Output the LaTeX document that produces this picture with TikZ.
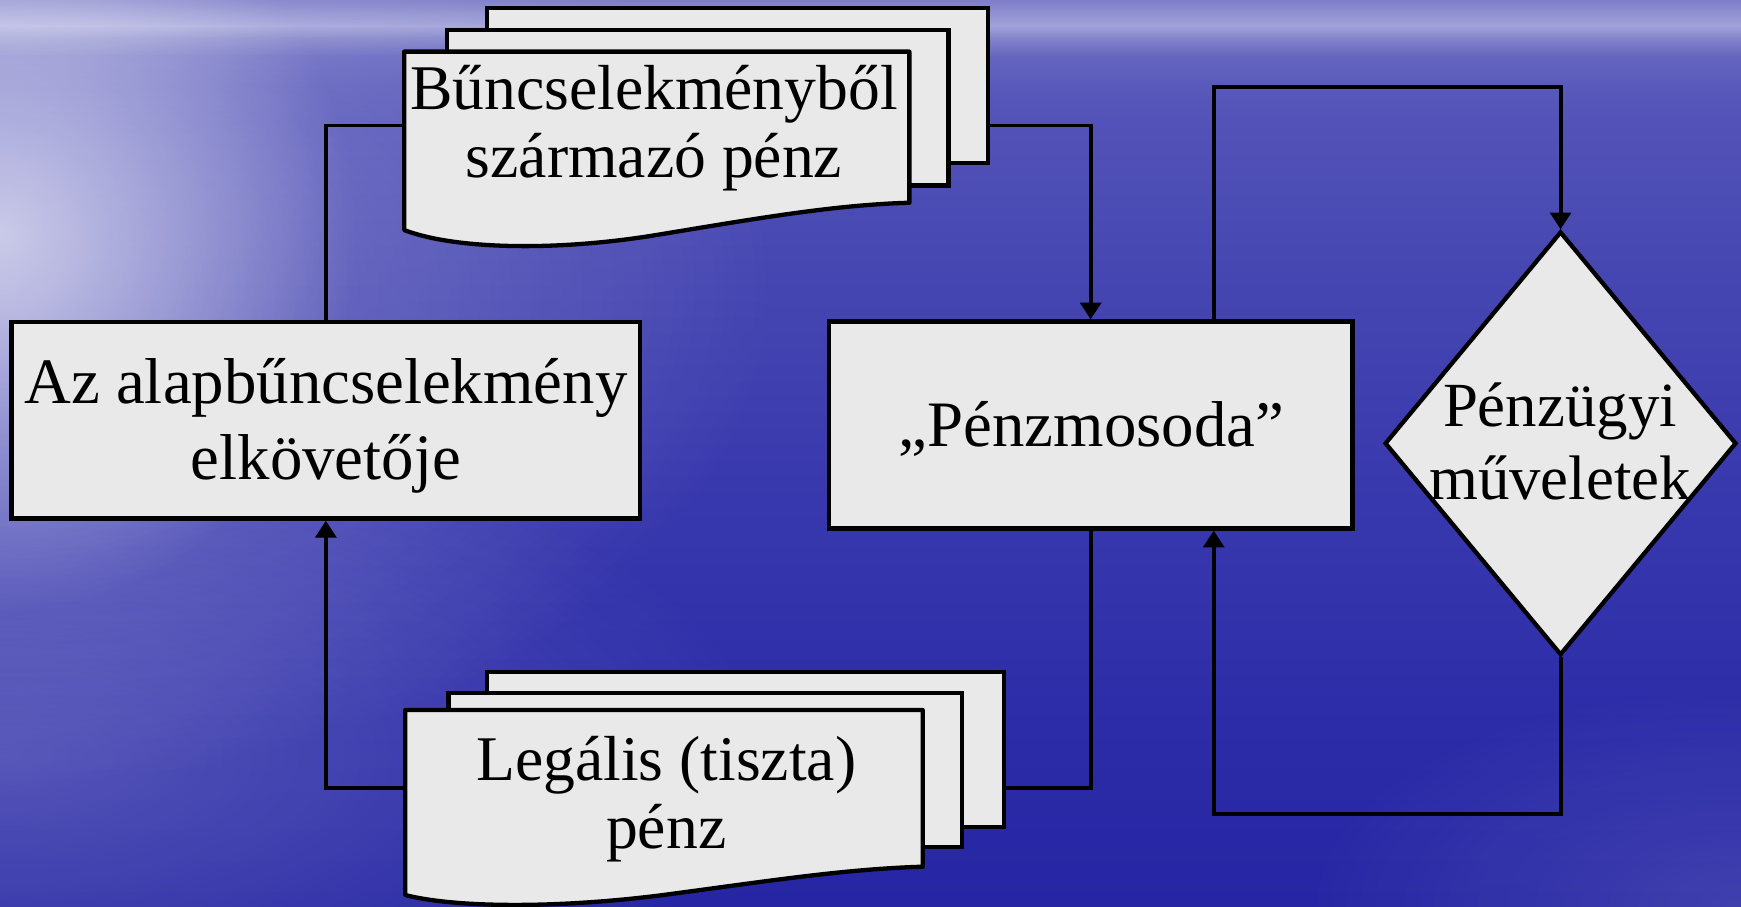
\documentclass[tikz,border=0pt]{standalone}
\usepackage{fontspec}
\setmainfont{Liberation Serif}
\usetikzlibrary{arrows.meta,shapes.geometric,calc,fadings}

\definecolor{boxfill}{HTML}{E9E9E9}
\definecolor{bgA}{HTML}{7C7CC8}
\definecolor{bgB}{HTML}{8E8ED0}
\definecolor{bgC}{HTML}{A2A2DA}
\definecolor{bgD}{HTML}{8484CA}
\definecolor{bgE}{HTML}{6666C0}
\definecolor{bgF}{HTML}{5A5ABB}
\definecolor{bgG}{HTML}{5252B8}
\definecolor{bgH}{HTML}{4646B2}
\definecolor{bgI}{HTML}{3838AE}
\definecolor{bgJ}{HTML}{2C2CA8}
\definecolor{bgK}{HTML}{2626A4}

\tikzfading[name=glowbig, inner color=transparent!70, outer color=transparent!100]
\tikzfading[name=glowedge, inner color=transparent!40, outer color=transparent!100]
\tikzfading[name=glowlow, inner color=transparent!80, outer color=transparent!100]
\tikzfading[name=glowfaint, inner color=transparent!88, outer color=transparent!100]

\begin{document}
\begin{tikzpicture}[x=0.01cm, y=-0.01cm,
  box/.style={draw=black, line width=1.1pt, fill=boxfill, inner sep=0pt},
  conn/.style={draw=black, line width=1pt},
  arr/.style={conn, -{Triangle[length=4.3pt,width=5.3pt]}},
  txt/.style={inner sep=0pt, text=black, anchor=base},
  docfont/.style={font=\fontsize{16.3}{17.3}\selectfont},
  boxfont/.style={font=\fontsize{16.6}{19.5}\selectfont},
  diafont/.style={font=\fontsize{16.1}{18.8}\selectfont},
  hook/.style={rectangle, draw=none, fill=none, inner sep=0pt, outer sep=0pt}]

\useasboundingbox (0,0) rectangle (1568,816);

% background
\begin{scope}
  \clip (0,0) rectangle (1568,816);
  \shade[top color=bgA, bottom color=bgB] (0,-1) rectangle (1568,10.6);
  \shade[top color=bgB, bottom color=bgC] (0,10) rectangle (1568,23.6);
  \shade[top color=bgC, bottom color=bgD] (0,23) rectangle (1568,34.6);
  \shade[top color=bgD, bottom color=bgE] (0,34) rectangle (1568,50.6);
  \shade[top color=bgE, bottom color=bgF] (0,50) rectangle (1568,75.6);
  \shade[top color=bgF, bottom color=bgG] (0,75) rectangle (1568,110.6);
  \shade[top color=bgG, bottom color=bgH] (0,110) rectangle (1568,250.6);
  \shade[top color=bgH, bottom color=bgI] (0,250) rectangle (1568,450.6);
  \shade[top color=bgI, bottom color=bgJ] (0,450) rectangle (1568,650.6);
  \shade[top color=bgJ, bottom color=bgK] (0,650) rectangle (1568,817);
  \fill[white, path fading=glowbig] (0,260) ellipse [x radius=7cm, y radius=4.5cm];
  \fill[white, path fading=glowedge] (0,210) ellipse [x radius=3.2cm, y radius=3.4cm];
  \fill[white, path fading=glowlow] (0,680) ellipse [x radius=7cm, y radius=3cm];
  \fill[white, path fading=glowfaint] (1568,816) ellipse [x radius=4cm, y radius=2cm];
\end{scope}

% top document stack
\node[box, minimum width=4.51cm, minimum height=1.395cm] (topback) at (664.5,77.25) {};
\node[box, minimum width=4.51cm, minimum height=1.40cm] (topmid) at (628.5,97) {};
\filldraw[draw=black, line width=1.1pt, fill=boxfill, line join=round]
  (364,46.5) -- (819,46.5) -- (819,182.6)
  .. controls (750.8,184.6) and (682.5,196.6) .. (591.5,211.6)
  .. controls (500.5,226.6) and (409.5,224.6) .. (364,207.2) -- cycle;
\node[hook, minimum width=4.55cm, minimum height=1.33cm] (topfront) at (591.5,113) {};
\node[txt, docfont] (toptext) at (589,99)
  {\begin{tabular}[t]{@{}c@{}}Bűncselekményből\\származó pénz\end{tabular}};

% bottom document stack
\node[box, minimum width=4.65cm, minimum height=1.395cm] (botback) at (671.5,674.75) {};
\node[box, minimum width=4.62cm, minimum height=1.386cm] (botmid) at (635,693.3) {};
\filldraw[draw=black, line width=1.1pt, fill=boxfill, line join=round]
  (365,639.5) -- (831,639.5) -- (831,780.6)
  .. controls (761.1,782.6) and (691.2,793.6) .. (598,806)
  .. controls (504.8,818) and (411.6,818) .. (365,806.1) -- cycle;
\node[hook, minimum width=4.66cm, minimum height=1.41cm] (botfront) at (598,710) {};
\node[txt, docfont] (bottext) at (600,703)
  {\begin{tabular}[t]{@{}c@{}}Legális (tiszta)\\pénz\end{tabular}};

% perpetrator box
\node[box, minimum width=5.66cm, minimum height=1.77cm] (az) at (293.5,378.5) {};
\node[txt, boxfont] (aztext) at (293.5,363)
  {\begin{tabular}[t]{@{}c@{}}Az alapbűncselekmény\\elkövetője\end{tabular}};

% laundry box
\node[box, minimum width=4.715cm, minimum height=1.862cm] (laundry) at (982.3,382.8) {};
\node[txt, boxfont] (laundrytext) at (983,402) {„Pénzmosoda”};

% diamond
\node[box, diamond, minimum width=3.166cm, minimum height=3.814cm] (dia) at (1405.5,399.3) {};
\node[txt, diafont] (diatext) at (1405,384)
  {\begin{tabular}[t]{@{}c@{}}Pénzügyi\\műveletek\end{tabular}};

% helper coordinates
\coordinate (lt) at ($(laundry.north west)!0.733!(laundry.north east)$);
\coordinate (lb) at ($(laundry.south west)!0.733!(laundry.south east)$);
\coordinate (looptop) at (0,78);
\coordinate (loopbot) at (0,733);

% connectors
\draw[conn] (topfront.west) -| (az.north);
\draw[arr] (topfront.west -| topback.east) -| (laundry.north);
\draw[conn] (laundry.south) |- (botfront.east -| botback.east);
\draw[arr] (botfront.west) -| (az.south);
\draw[arr] (lt) -- (lt |- looptop) -| (dia.north);
\draw[arr] (dia.south) -- (dia.south |- loopbot) -| (lb);
\end{tikzpicture}
\end{document}
